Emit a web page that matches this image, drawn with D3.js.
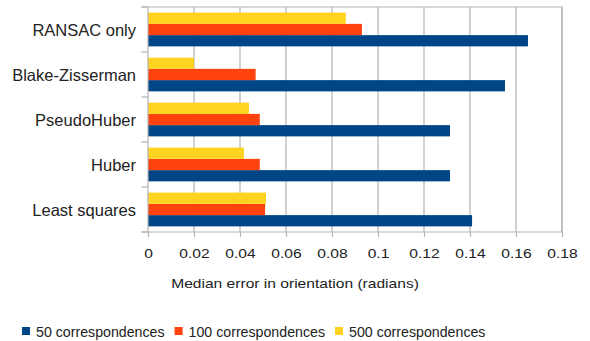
<!DOCTYPE html>
<html>
<head>
<meta charset="utf-8">
<script src="https://cdn.jsdelivr.net/npm/d3@7"></script>
<style>
  html, body { margin: 0; padding: 0; background: #fff; }
  svg { display: block; font-family: "Liberation Sans", Arial, sans-serif; }
</style>
</head>
<body>
<svg id="chart" width="590" height="341"></svg>
<script>
// Estimators, top to bottom
const categories = ["RANSAC only", "Blake-Zisserman", "PseudoHuber", "Huber", "Least squares"];

// Median orientation error (radians) per estimator
const values50 = [0.1652, 0.1552, 0.1313, 0.1313, 0.1409];
const values100 = [0.0930, 0.0468, 0.0486, 0.0486, 0.0509];
const values500 = [0.0860, 0.0200, 0.0439, 0.0417, 0.0513];

const seriesNames = ["50 correspondences", "100 correspondences", "500 correspondences"];
const seriesColors = ["#004586", "#ff420e", "#ffd320"];

const tickValues = [0, 0.02, 0.04, 0.06, 0.08, 0.10, 0.12, 0.14, 0.16, 0.18];
const tickLabels = ["0", "0.02", "0.04", "0.06", "0.08", "0.1", "0.12", "0.14", "0.16", "0.18"];

const series = [
  { name: seriesNames[0], color: seriesColors[0], values: values50 },
  { name: seriesNames[1], color: seriesColors[1], values: values100 },
  { name: seriesNames[2], color: seriesColors[2], values: values500 }
];

const svg = d3.select("#chart");
const plot = { left: 148, right: 562, top: 7, bottom: 232 };
const gridColor = "#b3b3b3";

const x = d3.scaleLinear().domain([0, 0.18]).range([plot.left, plot.right]);
const y = d3.scaleBand().domain(categories).range([plot.top, plot.bottom])
  .paddingInner(0.25).paddingOuter(0.125);
// Within each group: 500 on top, then 100, then 50
const yInner = d3.scaleBand().domain([2, 1, 0]).range([0, y.bandwidth()]);

// Vertical gridlines
svg.append("g").selectAll("line").data(tickValues.slice(1)).join("line")
  .attr("x1", d => x(d)).attr("x2", d => x(d))
  .attr("y1", plot.top).attr("y2", plot.bottom)
  .attr("stroke", gridColor).attr("stroke-width", 1.2);

// Top border
svg.append("line")
  .attr("x1", plot.left - 6.5).attr("x2", plot.right)
  .attr("y1", plot.top).attr("y2", plot.top)
  .attr("stroke", gridColor).attr("stroke-width", 1.2);

// Right border
svg.append("line")
  .attr("x1", plot.right).attr("x2", plot.right)
  .attr("y1", plot.top - 0.6).attr("y2", plot.bottom)
  .attr("stroke", "#bdbdbd").attr("stroke-width", 1.6);

// Bars
const groups = svg.append("g").selectAll("g").data(categories).join("g")
  .attr("transform", d => `translate(0,${y(d)})`);
groups.selectAll("rect")
  .data((d, i) => series.map((s, k) => ({ k, v: s.values[i], color: s.color })))
  .join("rect")
  .attr("x", x(0))
  .attr("y", d => yInner(d.k))
  .attr("width", d => x(d.v) - x(0))
  .attr("height", yInner.bandwidth())
  .attr("fill", d => d.color);

// Left axis: line plus ticks at group boundaries
const step = y.step();
const boundaries = d3.range(categories.length + 1).map(i => plot.top + i * step);
svg.append("line")
  .attr("x1", plot.left).attr("x2", plot.left)
  .attr("y1", plot.top).attr("y2", plot.bottom)
  .attr("stroke", gridColor).attr("stroke-width", 1.2);
svg.append("g").selectAll("line").data(boundaries).join("line")
  .attr("x1", plot.left - 6.5).attr("x2", plot.left)
  .attr("y1", d => d).attr("y2", d => d)
  .attr("stroke", gridColor).attr("stroke-width", 1.2);

// Category labels
svg.append("g").selectAll("text").data(categories).join("text")
  .attr("x", 136)
  .attr("y", d => y(d) + y.bandwidth() / 2 + 6)
  .attr("text-anchor", "end")
  .attr("font-size", 16.5)
  .attr("fill", "#222")
  .text(d => d);

// Bottom axis
const xAxis = d3.axisBottom(x)
  .tickValues(tickValues)
  .tickFormat((d, i) => tickLabels[i])
  .tickSize(5)
  .tickPadding(0);
const gx = svg.append("g").attr("transform", `translate(0,${plot.bottom})`).call(xAxis);
gx.select(".domain").remove();
gx.append("line")
  .attr("x1", plot.left - 6.5).attr("x2", plot.right)
  .attr("stroke", gridColor).attr("stroke-width", 1.2);
gx.selectAll(".tick line").attr("stroke", gridColor).attr("stroke-width", 1.2);
gx.selectAll(".tick text")
  .attr("y", 26.5).attr("dy", null)
  .attr("font-size", 13).attr("font-family", "Liberation Sans, Arial, sans-serif")
  .attr("fill", "#222")
  .attr("transform", "scale(1.2,1)");

// Axis title
svg.append("text")
  .attr("transform", "translate(295,287.5) scale(1.2,1)")
  .attr("text-anchor", "middle")
  .attr("font-size", 13)
  .attr("fill", "#222")
  .text("Median error in orientation (radians)");

// Legend
const legend = svg.append("g");
let lx = 22;
series.forEach(s => {
  legend.append("rect")
    .attr("x", lx).attr("y", 327)
    .attr("width", 8).attr("height", 8)
    .attr("fill", s.color);
  const t = legend.append("text")
    .attr("x", lx + 14).attr("y", 336.5)
    .attr("font-size", 14.2)
    .attr("fill", "#222")
    .text(s.name);
  lx += 14 + t.node().getComputedTextLength() + 10;
});
</script>
</body>
</html>
